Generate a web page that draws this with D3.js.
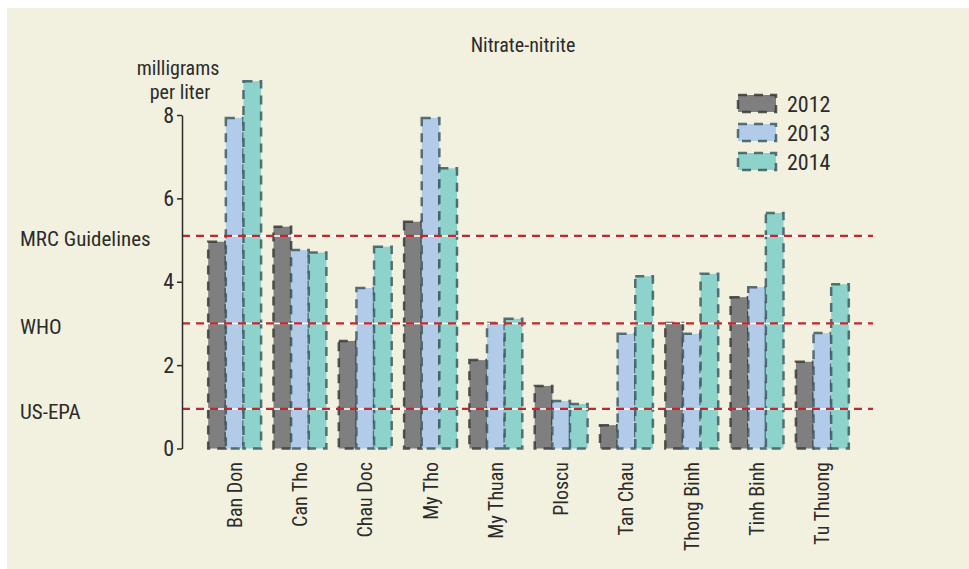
<!DOCTYPE html>
<html>
<head>
<meta charset="utf-8">
<script src="https://cdn.jsdelivr.net/npm/d3@7"></script>
<style>
  html, body { margin: 0; padding: 0; background: #fff; }
  svg { display: block; }
  text { font-family: "Liberation Sans Narrow", "Roboto Condensed", "Liberation Sans", sans-serif; fill: #2b2b2b; }
</style>
</head>
<body>
<div id="chart"></div>
<script>
const sites = ['Ban Don', 'Can Tho', 'Chau Doc', 'My Tho', 'My Thuan', 'Ploscu', 'Tan Chau', 'Thong Binh', 'Tinh Binh', 'Tu Thuong'];
const years = ['2012', '2013', '2014'];
const values2012 = [4.96, 5.32, 2.58, 5.44, 2.12, 1.50, 0.56, 3.01, 3.63, 2.08];
const values2013 = [7.93, 4.76, 3.85, 7.93, 3.01, 1.14, 2.75, 2.75, 3.87, 2.77];
const values2014 = [8.81, 4.70, 4.84, 6.72, 3.11, 1.07, 4.13, 4.19, 5.65, 3.94];
const yTicks = [0, 2, 4, 6, 8];
const guidelines = [
  { label: 'MRC Guidelines', value: 5.1 },
  { label: 'WHO', value: 3.0 },
  { label: 'US-EPA', value: 0.95 }
];

const colors = { '2012': '#7f7f7f', '2013': '#b2cbe9', '2014': '#8dd3cc' };
const series = { '2012': values2012, '2013': values2013, '2014': values2014 };

const width = 969, height = 569;

const svg = d3.select('#chart').append('svg')
  .attr('width', width)
  .attr('height', height);

// panel background
svg.append('rect')
  .attr('x', 7).attr('y', 8)
  .attr('width', width - 7).attr('height', height - 8)
  .attr('fill', '#f2f0de');

const x = d3.scaleBand()
  .domain(sites)
  .range([202, 855])
  .paddingInner(0.19)
  .paddingOuter(0.095);

const xSub = d3.scaleBand()
  .domain(years)
  .range([0, x.bandwidth()]);

const y = d3.scaleLinear()
  .domain([0, 8])
  .range([448.5, 115]);

// bars
const groups = svg.append('g')
  .selectAll('g')
  .data(sites)
  .enter().append('g')
  .attr('transform', d => `translate(${x(d)},0)`);

groups.selectAll('rect')
  .data((d, i) => years.map(yr => ({ year: yr, value: series[yr][i] })))
  .enter().append('rect')
  .attr('x', d => xSub(d.year))
  .attr('y', d => y(d.value))
  .attr('width', xSub.bandwidth())
  .attr('height', d => y(0) - y(d.value))
  .attr('fill', d => colors[d.year])
  .attr('stroke', d => d.year === '2012' ? '#3a3a3a' : '#3c5a60')
  .attr('stroke-opacity', 0.85)
  .attr('stroke-width', 2.5)
  .attr('stroke-dasharray', '9,7');

// guideline lines
const lineX0 = 182, lineX1 = 873;
const gl = svg.append('g');
gl.selectAll('line.under')
  .data(guidelines)
  .enter().append('line')
  .attr('class', 'under')
  .attr('x1', lineX0).attr('x2', lineX1)
  .attr('y1', d => y(d.value)).attr('y2', d => y(d.value))
  .attr('stroke', '#ffffff')
  .attr('stroke-width', 1.5);
gl.selectAll('line.over')
  .data(guidelines)
  .enter().append('line')
  .attr('class', 'over')
  .attr('x1', lineX0).attr('x2', lineX1)
  .attr('y1', d => y(d.value)).attr('y2', d => y(d.value))
  .attr('stroke', '#c1272d')
  .attr('stroke-width', 2.2)
  .attr('stroke-dasharray', '8,6');

gl.selectAll('text')
  .data(guidelines)
  .enter().append('text')
  .attr('x', 20)
  .attr('y', d => y(d.value) + 3)
  .attr('dy', '0.35em')
  .attr('font-size', '21px')
  .text(d => d.label);

// y axis
const yAxis = d3.axisLeft(y)
  .tickValues(yTicks)
  .tickSize(5)
  .tickSizeOuter(0)
  .tickFormat(d3.format('d'));

const ya = svg.append('g')
  .attr('transform', 'translate(182,0)')
  .call(yAxis);
ya.select('.domain').attr('stroke', '#2b2b2b').attr('stroke-width', 1.5);
ya.selectAll('.tick line').attr('stroke', '#2b2b2b').attr('stroke-width', 1.5);
ya.selectAll('.tick text')
  .attr('x', -8)
  .attr('font-size', '22px')
  .attr('font-family', '"Liberation Sans Narrow", sans-serif')
  .attr('fill', '#2b2b2b');

// y label
svg.append('text')
  .attr('x', 178).attr('y', 75)
  .attr('text-anchor', 'middle')
  .attr('font-size', '20px')
  .text('milligrams');
svg.append('text')
  .attr('x', 180).attr('y', 99)
  .attr('text-anchor', 'middle')
  .attr('font-size', '20px')
  .text('per liter');

// title
svg.append('text')
  .attr('x', 523).attr('y', 52)
  .attr('text-anchor', 'middle')
  .attr('font-size', '20px')
  .text('Nitrate-nitrite');

// x labels
svg.append('g')
  .selectAll('text')
  .data(sites)
  .enter().append('text')
  .attr('transform', d => `translate(${x(d) + x.bandwidth() / 2 + 7},462) rotate(-90)`)
  .attr('text-anchor', 'end')
  .attr('font-size', '20px')
  .text(d => d);

// legend
const legend = svg.append('g')
  .selectAll('g')
  .data(years)
  .enter().append('g')
  .attr('transform', (d, i) => `translate(738,${95 + i * 29})`);
legend.append('rect')
  .attr('width', 38).attr('height', 17)
  .attr('fill', d => colors[d])
  .attr('stroke', d => d === '2012' ? '#3a3a3a' : '#3c5a60')
  .attr('stroke-opacity', 0.85)
  .attr('stroke-width', 2.5)
  .attr('stroke-dasharray', '9,7');
legend.append('text')
  .attr('x', 49).attr('y', 9)
  .attr('dy', '0.35em')
  .attr('font-size', '22px')
  .text(d => d);
</script>
</body>
</html>
